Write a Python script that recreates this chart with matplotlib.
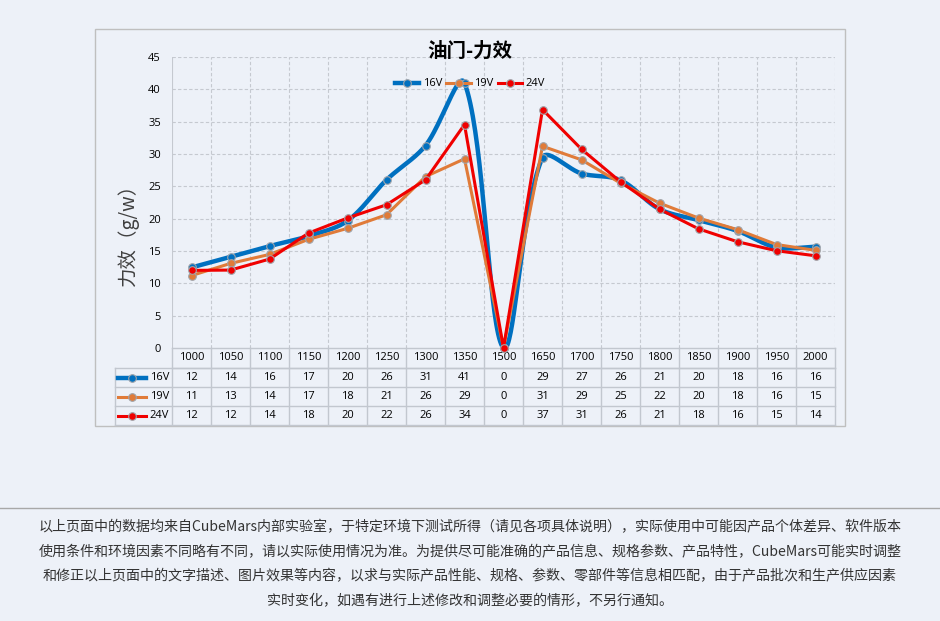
import numpy as np
import matplotlib
matplotlib.use("Agg")
import matplotlib.pyplot as plt
from matplotlib.lines import Line2D
from matplotlib.transforms import blended_transform_factory

plt.rcParams['font.family'] = ['Noto Sans CJK SC', 'DejaVu Sans']

# ---- data ----
categories = ['1000', '1050', '1100', '1150', '1200', '1250', '1300', '1350', '1500',
              '1650', '1700', '1750', '1800', '1850', '1900', '1950', '2000']
v16 = [12.45, 14.1, 15.76, 17.3, 19.67, 26.0, 31.3, 41.0, 0.0,
       29.45, 26.98, 25.95, 21.47, 19.77, 18.1, 15.55, 15.65]
v19 = [11.2, 13.08, 14.47, 16.8, 18.5, 20.6, 26.5, 29.25, 0.0,
       31.2, 29.1, 25.5, 22.4, 20.1, 18.3, 16.0, 15.1]
v24 = [12.0, 12.05, 13.75, 17.77, 20.1, 22.15, 26.0, 34.55, 0.0,
       36.87, 30.74, 25.7, 21.47, 18.43, 16.43, 15.04, 14.26]
table16 = [12, 14, 16, 17, 20, 26, 31, 41, 0, 29, 27, 26, 21, 20, 18, 16, 16]
table19 = [11, 13, 14, 17, 18, 21, 26, 29, 0, 31, 29, 25, 22, 20, 18, 16, 15]
table24 = [12, 12, 14, 18, 20, 22, 26, 34, 0, 37, 31, 26, 21, 18, 16, 15, 14]
series_names = ['16V', '19V', '24V']
yticks = [0, 5, 10, 15, 20, 25, 30, 35, 40, 45]
title = '油门-力效'
ylabel = '力效（g/w）'
footer_lines = [
    '以上页面中的数据均来自CubeMars内部实验室，于特定环境下测试所得（请见各项具体说明），实际使用中可能因产品个体差异、软件版本',
    '使用条件和环境因素不同略有不同，请以实际使用情况为准。为提供尽可能准确的产品信息、规格参数、产品特性，CubeMars可能实时调整',
    '和修正以上页面中的文字描述、图片效果等内容，以求与实际产品性能、规格、参数、零部件等信息相匹配，由于产品批次和生产供应因素',
    '实时变化，如遇有进行上述修改和调整必要的情形，不另行通知。',
]

colors = ['#0070C0', '#E07B39', '#F00000']
lws = [3.2, 2.2, 2.2]
BG = '#EDF1F8'
W, H = 940, 621

def smooth(y, sx=39.0, sy=6.47, n=40):
    """Excel-like smoothing: Bezier with length-weighted tangents (computed in screen-like units)."""
    y = np.asarray(y, float)
    x = np.arange(len(y), dtype=float)
    P = np.column_stack([x * sx, y * sy])
    m = len(P)
    out = []
    for i in range(m - 1):
        p0 = P[i - 1] if i > 0 else P[i]
        p1 = P[i]
        p2 = P[i + 1]
        p3 = P[i + 2] if i + 2 < m else P[i + 1]
        d01 = np.linalg.norm(p1 - p0); d12 = np.linalg.norm(p2 - p1); d23 = np.linalg.norm(p3 - p2)
        f1 = d12 / (d01 + d12) if d01 + d12 > 0 else 0
        f2 = d12 / (d12 + d23) if d12 + d23 > 0 else 0
        c1 = p1 + (p2 - p0) * f1 / 3.0 * 1.0
        c2 = p2 - (p3 - p1) * f2 / 3.0 * 1.0
        t = np.linspace(0, 1, n)[:, None]
        b = ((1 - t) ** 3) * p1 + 3 * ((1 - t) ** 2) * t * c1 + 3 * (1 - t) * t ** 2 * c2 + t ** 3 * p2
        out.append(b)
    B = np.vstack(out)
    return B[:, 0] / sx, B[:, 1] / sy

fig = plt.figure(figsize=(W / 100, H / 100), dpi=100, facecolor=BG)

def fx(px): return px / W
def fy(py): return 1 - py / H

# chart box
box = plt.Rectangle((fx(95), fy(426)), fx(845) - fx(95), fy(29) - fy(426),
                    transform=fig.transFigure, facecolor=BG,
                    edgecolor='#BFBFBF', linewidth=1.0, zorder=-10)
fig.patches.append(box)

ax = fig.add_axes([fx(172), fy(348), fx(835) - fx(172), fy(57) - fy(348)])
ax.set_facecolor('none')
n = len(categories)
ax.set_xlim(-0.5, n - 0.5)
ax.set_ylim(0, 45)
ax.set_yticks(yticks)
ax.set_yticklabels([str(t) for t in yticks], fontsize=8, family=['Open Sans', 'DejaVu Sans'])
ax.tick_params(axis='y', length=0, pad=8)
ax.set_xticks([])
for s in ax.spines.values():
    s.set_visible(False)
for k in range(n):
    ax.axvline(k + 0.5, color='#C5C9D0', lw=0.8, ls=(0, (3, 2)), zorder=1)
ax.axvline(-0.5, color='#C5C9D0', lw=0.8, zorder=1)
for t in yticks[1:]:
    ax.axhline(t, color='#C5C9D0', lw=0.8, ls=(0, (3, 2)), zorder=1)

xi = np.arange(n)
series = [v16, v19, v24]
handles = []
for idx, (vals, c, lw, name) in enumerate(zip(series, colors, lws, series_names)):
    if idx == 0:
        sxv, syv = smooth(vals)
        ax.plot(sxv, syv, color=c, lw=lw, zorder=3 + idx, solid_capstyle='round', clip_on=False)
    else:
        ax.plot(xi, vals, color=c, lw=lw, zorder=3 + idx, solid_joinstyle='round', clip_on=False)
    ax.plot(xi, vals, ls='none', marker='o', ms=5.5, mfc=c, mec='#A0A4AA', mew=0.8,
            zorder=3 + idx, clip_on=False)
    handles.append(Line2D([0], [0], color=c, lw=lw, marker='o', ms=5.5, mfc=c,
                          mec='#A0A4AA', mew=0.8))

leg = ax.legend(handles, series_names, loc='center',
                bbox_to_anchor=((470 - 172) / (835 - 172), 1 - (84 - 57) / 291),
                ncol=3, frameon=False, fontsize=8, handlelength=2.2, handletextpad=0.3,
                columnspacing=0.4, borderpad=0)
leg.set_zorder(10)
for t in leg.get_texts():
    t.set_family(['Open Sans', 'DejaVu Sans'])

fig.text(fx(470), fy(51), title, ha='center', va='center', fontsize=14, fontweight='bold')
fig.text(fx(128), fy(230), ylabel, ha='center', va='center', rotation=90, fontsize=14, color='#404040')

# ---- data table ----
tr = blended_transform_factory(ax.transData, fig.transFigure)
row_y = [348, 368, 387, 406, 425]
gcol = '#C2C7CF'
ax.plot([-0.5, n - 0.5], [fy(348)] * 2, transform=tr, color=gcol, lw=1, clip_on=False)
ax.plot([-0.5, n - 0.5], [fy(368)] * 2, transform=tr, color=gcol, lw=1, clip_on=False)
for py in row_y[1:]:
    fig.lines.append(Line2D([fx(115), fx(835)], [fy(py)] * 2, transform=fig.transFigure, color=gcol, lw=1))
for k in range(n + 1):
    ax.plot([k - 0.5] * 2, [fy(348), fy(425)], transform=tr, color=gcol, lw=1, clip_on=False)
fig.lines.append(Line2D([fx(115)] * 2, [fy(368), fy(425)], transform=fig.transFigure, color=gcol, lw=1))

tfont = ['Open Sans', 'DejaVu Sans']
for k, cat in enumerate(categories):
    ax.text(k, fy(358), cat, transform=tr, ha='center', va='center', fontsize=8, family=tfont)
tables = [table16, table19, table24]
for r, (tv, c, lw, name) in enumerate(zip(tables, colors, lws, series_names)):
    yc = fy((row_y[r + 1] + row_y[r + 2]) / 2)
    for k, v in enumerate(tv):
        ax.text(k, yc, str(v), transform=tr, ha='center', va='center', fontsize=8, family=tfont)
    fig.lines.append(Line2D([fx(118), fx(146)], [yc, yc], transform=fig.transFigure, color=c, lw=lw))
    fig.lines.append(Line2D([fx(132)], [yc], transform=fig.transFigure, ls='none', marker='o', ms=5.5,
                            mfc=c, mec='#A0A4AA', mew=0.8))
    fig.text(fx(169), yc, name, ha='right', va='center', fontsize=8, family=tfont)

# ---- footer ----
fig.lines.append(Line2D([0, 1], [fy(508)] * 2, transform=fig.transFigure, color='#A8A8A8', lw=1))
for i, line in enumerate(footer_lines):
    fig.text(0.5, fy(527 + 24.7 * i), line, ha='center', va='center', fontsize=10.1, color='#333333')

fig.savefig('out.png', dpi=100, facecolor=BG)
